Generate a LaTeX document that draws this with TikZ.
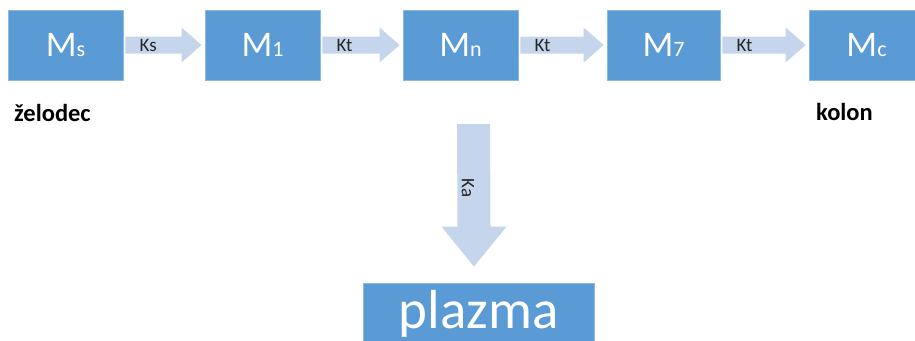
\documentclass[tikz,border=0pt]{standalone}
\usepackage{fontspec}
\setmainfont{Carlito}
\usetikzlibrary{calc}
\definecolor{boxblue}{HTML}{5B9BD5}
\definecolor{flowblue}{HTML}{C5D6EC}
% smaller index letter set on the baseline
\newcommand{\idx}[1]{{\fontsize{22}{22}\selectfont #1}}
% block arrow between two compartments: from, to, label node name, label
\newcommand{\hflow}[4]{%
  \fill[flow] ($(#1.east)+(2,-8.5)$) -- ($(#2.west)+(-23,-8.5)$)
    -- ($(#2.west)+(-23,-17.5)$) -- ($(#2.west)+(-3,0)$)
    -- ($(#2.west)+(-23,17.5)$) -- ($(#2.west)+(-23,8.5)$)
    -- ($(#1.east)+(2,8.5)$) -- cycle;
  \node[rate, anchor=west] (#3) at ($(#1.east)+(16,0)$) {#4};}

\begin{document}
\begin{tikzpicture}[x=1pt,y=-1pt,
  compartment/.style={fill=boxblue, draw=boxblue!70!white, line width=0.8pt,
    minimum width=115pt, minimum height=70pt, inner sep=0pt,
    text=white, font=\fontsize{36}{36}\selectfont},
  flow/.style={fill=flowblue},
  rate/.style={font=\fontsize{19}{19}\selectfont, inner sep=0pt, text=black!85},
  organ/.style={font=\bfseries\fontsize{24.5}{24.5}\selectfont, inner sep=0pt,
    anchor=base west},
]
\useasboundingbox (0,0) rectangle (915,340);
\clip (0,0) rectangle (915,340);
\fill[white] (0,0) rectangle (915,340);

% compartments
\node[compartment] (ms) at (65.5,45)  {M\idx{s}};
\node[compartment] (m1) at (262.5,45) {M\idx{1}};
\node[compartment] (mn) at (460.5,45) {M\idx{n}};
\node[compartment, minimum width=113pt] (m7) at (663.5,45) {M\idx{7}};
\node[compartment] (mc) at (866.5,45) {M\idx{c}};
\node[compartment, minimum width=231pt] (pl) at (478.5,318) {};
\node[text=white, font=\fontsize{55}{55}\selectfont, inner sep=0pt,
  anchor=base] (pltext) at (478.5,328) {plazma};

% transfer between compartments
\hflow{ms}{m1}{ks}{Ks}
\hflow{m1}{mn}{kt1}{Kt}
\hflow{mn}{m7}{kt2}{Kt}
\hflow{m7}{mc}{kt3}{Kt}

% absorption into plasma
\coordinate (kasrc) at (473.5,124);
\coordinate (katip) at ($(pl.north)+(-4.5,-16)$);
\fill[flow] ($(kasrc)+(-16.5,0)$) -- ($(kasrc)+(16.5,0)$)
  -- ($(katip)+(16.5,-40)$) -- ($(katip)+(32.5,-40)$) -- (katip)
  -- ($(katip)+(-32.5,-40)$) -- ($(katip)+(-16.5,-40)$) -- cycle;
\node[rate, rotate=-90] (ka) at (468,188) {Ka};

% organ names
\node[organ] (zel) at (14,121) {želodec};
\node[organ] (kol) at (816,120) {kolon};
\end{tikzpicture}
\end{document}
